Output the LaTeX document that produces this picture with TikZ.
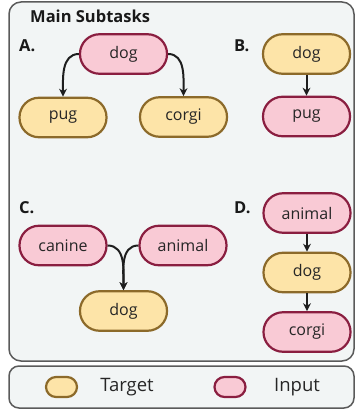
\documentclass[tikz,border=0pt]{standalone}
\usepackage{fontspec}
\setmainfont{Open Sans}
\usetikzlibrary{arrows.meta}
\definecolor{pinkfill}{HTML}{F9CAD5}
\definecolor{pinkdraw}{HTML}{8A1E40}
\definecolor{yelfill}{HTML}{FDE4A8}
\definecolor{yeldraw}{HTML}{8C6A2A}
\definecolor{framebg}{HTML}{F2F5F5}
\definecolor{framedraw}{HTML}{5A5A5A}
\definecolor{arr}{HTML}{1E1E1E}
\tikzset{
  pill/.style={rectangle, rounded corners=19.5pt, minimum width=87pt, minimum height=39.5pt, line width=2.2pt, inner sep=0pt, font=\fontsize{16}{18}\selectfont, text=black!85},
  inp/.style={pill, fill=pinkfill, draw=pinkdraw},
  tgt/.style={pill, fill=yelfill, draw=yeldraw},
  minipill/.style={rectangle, rounded corners=10pt, minimum width=31pt, minimum height=20pt, line width=2.2pt},
  frame/.style={fill=framebg, draw=framedraw, line width=1.5pt},
  lbl/.style={font=\fontsize{16.5}{18}\selectfont\bfseries, anchor=west, inner sep=0pt, text=black!90},
  arw/.style={-{Stealth[length=8pt,width=8pt]}, line width=2pt, draw=arr},
  legtxt/.style={font=\fontsize{18.5}{20}\selectfont, text=black!85, inner sep=0pt}
}
\begin{document}
\begin{tikzpicture}[x=1pt,y=-1pt]
\useasboundingbox (0,0) rectangle (355,411);
\draw[frame, rounded corners=12pt] (9,2) rectangle (354,361);
\draw[frame, rounded corners=10pt] (9,366) rectangle (354,408);
\node[lbl] (title) at (30,16) {Main Subtasks};
\node[lbl] (la) at (19,46) {A.};
\node[lbl] (lb) at (234,46) {B.};
\node[lbl] (lc) at (19,208) {C.};
\node[lbl] (ld) at (234,208) {D.};
% A
\node[inp] (adog) at (123.5,54) {dog};
\node[tgt] (apug) at (63,117.5) {pug};
\node[tgt] (acorgi) at (183.5,117) {corgi};
\draw[arw] (adog.west) to[out=180,in=90] (apug.north);
\draw[arw] (adog.east) to[out=0,in=90] (acorgi.north);
% B
\node[tgt] (bdog) at (306.5,54) {dog};
\node[inp] (bpug) at (306.5,116.5) {pug};
\draw[arw] (bdog) -- (bpug);
% C
\node[inp] (ccanine) at (63,245.5) {canine};
\node[inp] (canimal) at (183,245.5) {animal};
\node[tgt] (cdog) at (123.5,311) {dog};
\draw[arw] (ccanine.east) to[out=0,in=90] (cdog.north);
\draw[arw] (canimal.west) to[out=180,in=90] (cdog.north);
% D
\node[inp] (danimal) at (307,213) {animal};
\node[tgt] (ddog) at (307,272.5) {dog};
\node[inp] (dcorgi) at (307,332) {corgi};
\draw[arw] (danimal) -- (ddog);
\draw[arw] (ddog) -- (dcorgi);
% legend
\node[minipill, fill=yelfill, draw=yeldraw] (ltgt) at (61.5,387) {};
\node[legtxt] (ltgttxt) at (127,387) {Target};
\node[minipill, fill=pinkfill, draw=pinkdraw] (linp) at (230,387) {};
\node[legtxt] (linptxt) at (297,387) {Input};
\end{tikzpicture}
\end{document}
